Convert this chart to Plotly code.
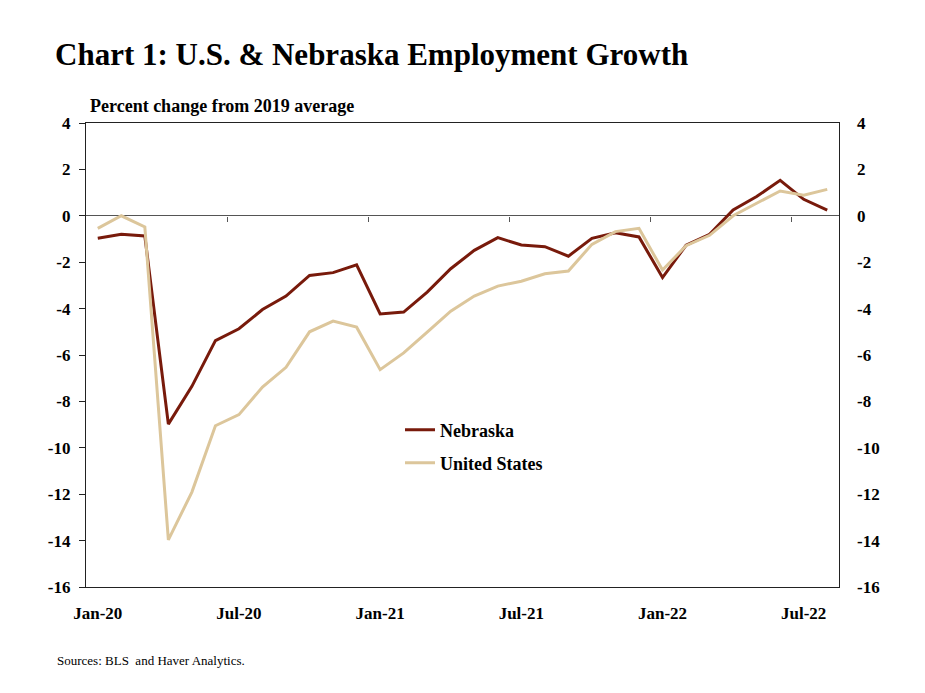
import plotly.graph_objects as go

months = ["Jan-20","Feb-20","Mar-20","Apr-20","May-20","Jun-20","Jul-20","Aug-20","Sep-20","Oct-20","Nov-20","Dec-20",
          "Jan-21","Feb-21","Mar-21","Apr-21","May-21","Jun-21","Jul-21","Aug-21","Sep-21","Oct-21","Nov-21","Dec-21",
          "Jan-22","Feb-22","Mar-22","Apr-22","May-22","Jun-22","Jul-22","Aug-22"]
nebraska = [-0.97, -0.80, -0.87, -8.98, -7.35, -5.38, -4.87, -4.04, -3.46, -2.57, -2.45, -2.11,
            -4.23, -4.15, -3.29, -2.28, -1.49, -0.94, -1.26, -1.33, -1.74, -0.97, -0.73, -0.91,
            -2.66, -1.27, -0.80, 0.25, 0.83, 1.53, 0.71, 0.24]
united_states = [-0.54, 0.0, -0.48, -13.97, -11.91, -9.05, -8.57, -7.38, -6.53, -5.0, -4.54, -4.80,
                 -6.63, -5.91, -5.01, -4.11, -3.46, -3.03, -2.82, -2.50, -2.38, -1.23, -0.68, -0.54,
                 -2.34, -1.29, -0.84, 0.0, 0.54, 1.07, 0.89, 1.14]
tick_labels = ["Jan-20", "Jul-20", "Jan-21", "Jul-21", "Jan-22", "Jul-22"]
y_ticks = [4, 2, 0, -2, -4, -6, -8, -10, -12, -14, -16]

idx = list(range(len(months)))
label_pos = [months.index(t) for t in tick_labels]
boundary_pos = [p - 0.5 for p in label_pos[1:]]

FONT = "Liberation Serif"
tickfont = dict(family=FONT, size=17, color="black")

W, H = 917, 685          # page has an 8px body margin
OFF = 8
PL, PR, PT, PB = 86, 839, 123, 587   # plot area in screen pixels
PW, PH = PR - PL, PB - PT

fig = go.Figure()
fig.add_trace(go.Scatter(x=idx, y=nebraska, mode="lines", name="<b>Nebraska</b>",
                         line=dict(color="#781a0b", width=3), legend="legend"))
fig.add_trace(go.Scatter(x=idx, y=united_states, mode="lines", name="<b>United States</b>",
                         line=dict(color="#dcc69b", width=3), legend="legend2", yaxis="y2"))
# invisible trace for the tick-only axis on the zero line
fig.add_trace(go.Scatter(x=idx, y=nebraska, mode="lines", xaxis="x2", showlegend=False,
                         line=dict(width=0), hoverinfo="skip", opacity=0))

xr = [-0.5, len(months) - 0.5]
yr = [-16, 4]
fig.update_layout(
    width=W, height=H,
    margin=dict(l=PL - OFF, r=W - (PR - OFF), t=PT - OFF, b=H - (PB - OFF)),
    paper_bgcolor="white", plot_bgcolor="white",
    title=dict(text="<b>Chart 1: U.S. &amp; Nebraska Employment Growth</b>",
               x=(55 - OFF) / W, xanchor="left", y=1 - (54 - OFF) / H, yanchor="middle",
               font=dict(family=FONT, size=31, color="black")),
    xaxis=dict(range=xr, tickvals=label_pos, ticktext=["<b>%s</b>" % t for t in tick_labels],
               tickfont=tickfont, ticks="", showgrid=False, zeroline=False,
               showline=True, linecolor="#222", linewidth=1.3, mirror=True,
               ticklabelstandoff=10),
    xaxis2=dict(range=xr, overlaying="x", anchor="free", position=0.8, side="bottom",
                tickvals=boundary_pos, ticks="outside", ticklen=5, tickcolor="#555", tickwidth=1,
                showticklabels=False, showgrid=False, zeroline=False, showline=False),
    yaxis=dict(range=yr, tickvals=y_ticks, ticktext=["<b>%d</b>" % v for v in y_ticks],
               tickfont=tickfont, ticks="outside", ticklen=6, tickcolor="#222",
               showgrid=False, zeroline=True, zerolinecolor="#555", zerolinewidth=1.2,
               showline=True, linecolor="#222", linewidth=1.3, mirror=True,
               ticklabelstandoff=5),
    yaxis2=dict(range=yr, overlaying="y", side="right", tickvals=y_ticks,
                ticktext=["<b>%d</b>" % v for v in y_ticks], tickfont=tickfont, ticks="",
                showgrid=False, zeroline=False, showline=False, ticklabelstandoff=17),
    legend=dict(x=(400 - PL) / PW, y=(PB - 430) / PH, xanchor="left", yanchor="middle",
                font=dict(family=FONT, size=18, color="black"), bgcolor="rgba(0,0,0,0)",
                itemwidth=30),
    legend2=dict(x=(400 - PL) / PW, y=(PB - 463) / PH, xanchor="left", yanchor="middle",
                 font=dict(family=FONT, size=18, color="black"), bgcolor="rgba(0,0,0,0)",
                 itemwidth=30),
    annotations=[
        dict(text="<b>Percent change from 2019 average</b>", xref="paper", yref="paper",
             x=(88 - PL) / PW, y=(PB - 106) / PH, xanchor="left", yanchor="middle", showarrow=False,
             font=dict(family=FONT, size=18, color="black")),
        dict(text="Sources: BLS  and Haver Analytics.", xref="paper", yref="paper",
             x=(55 - PL) / PW, y=(PB - 660) / PH, xanchor="left", yanchor="middle", showarrow=False,
             font=dict(family=FONT, size=13, color="black")),
    ],
    showlegend=True,
)
fig.write_html("out.html")
